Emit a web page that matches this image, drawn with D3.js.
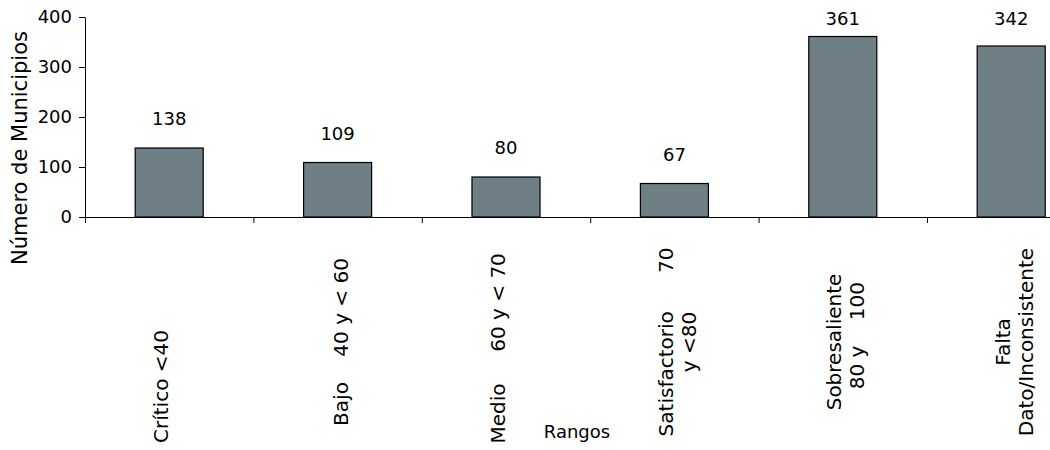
<!DOCTYPE html>
<html>
<head>
<meta charset="utf-8">
<script src="https://cdn.jsdelivr.net/npm/d3@7"></script>
<style>
  html, body { margin: 0; padding: 0; background: #fff; }
  svg { display: block; }
  text { font-family: "DejaVu Sans", Verdana, sans-serif; fill: #000; }
</style>
</head>
<body>
<svg id="chart" width="1050" height="450"></svg>
<script>
// ---- data ----
const categoryLabels = [
  ["Crítico <40              ", ""],
  ["Bajo    40 y < 60"],
  ["Medio     60 y < 70  ", ""],
  ["Satisfactorio      70", "y <80"],
  ["Sobresaliente", "  80 y    100"],
  ["Falta", "Dato/Inconsistente"]
];
const values = [138, 109, 80, 67, 361, 342];
const yTicks = [0, 100, 200, 300, 400];
const yTitle = "Número de Municipios";
const xTitle = "Rangos";

// ---- layout ----
(function () {
const svg = d3.select("#chart");
const mLeft = 85, mTop = 17, mBottom = 217;
const bandW = 168.4;
const idx = d3.range(values.length);

const x = d3.scaleBand().domain(idx).range([mLeft, mLeft + bandW * values.length]).padding(0);
const xEdge = d3.scaleLinear().domain([0, values.length]).range([mLeft, mLeft + bandW * values.length]);
const y = d3.scaleLinear().domain([0, 400]).range([mBottom, mTop]);

// bars
const barW = x.bandwidth() * 0.404;
svg.append("g").selectAll("rect").data(values).join("rect")
  .attr("x", (d, i) => x(i) + (x.bandwidth() - barW) / 2)
  .attr("y", d => y(d))
  .attr("width", barW)
  .attr("height", d => y(0) - y(d))
  .attr("fill", "#6f7f86")
  .attr("stroke", "#000")
  .attr("stroke-width", 1.2);

// y axis
const yAxis = svg.append("g").attr("transform", `translate(${mLeft},0)`)
  .call(d3.axisLeft(y).tickValues(yTicks).tickSize(6).tickSizeOuter(0).tickPadding(7));
yAxis.selectAll("text").style("font-family", "DejaVu Sans").style("font-size", "18px").attr("fill", "#000");
yAxis.selectAll("line, path").attr("stroke", "#000");

// x axis (ticks at category boundaries)
const xAxis = svg.append("g").attr("transform", `translate(0,${mBottom})`)
  .call(d3.axisBottom(xEdge).tickValues(d3.range(values.length + 1)).tickFormat("").tickSize(6).tickSizeOuter(0));
xAxis.selectAll("line, path").attr("stroke", "#000");

// value labels
svg.append("g").selectAll("text").data(values).join("text")
  .attr("x", (d, i) => x(i) + x.bandwidth() / 2)
  .attr("y", d => Math.max(y(d) - 23, 25))
  .attr("text-anchor", "middle")
  .style("font-size", "18px")
  .text(d => d);

// category labels (rotated)
const lh = 23, k = 10;
const catG = svg.append("g");
categoryLabels.forEach((lines, i) => {
  const t = catG.append("text")
    .attr("transform", `translate(${x(i) + x.bandwidth() / 2},342) rotate(-90)`)
    .attr("text-anchor", "middle")
    .attr("xml:space", "preserve")
    .style("white-space", "pre")
    .style("font-size", "20px");
  const n = lines.length;
  lines.forEach((ln, j) => {
    t.append("tspan")
      .attr("x", 0)
      .attr("y", k + (j - (n - 1) / 2) * lh)
      .text(ln);
  });
});

// axis titles
svg.append("text")
  .attr("transform", "translate(27,148) rotate(-90)")
  .attr("text-anchor", "middle")
  .style("font-size", "21px")
  .text(yTitle);

svg.append("text")
  .attr("x", 577)
  .attr("y", 438)
  .attr("text-anchor", "middle")
  .style("font-size", "18px")
  .text(xTitle);
})();
</script>
</body>
</html>
